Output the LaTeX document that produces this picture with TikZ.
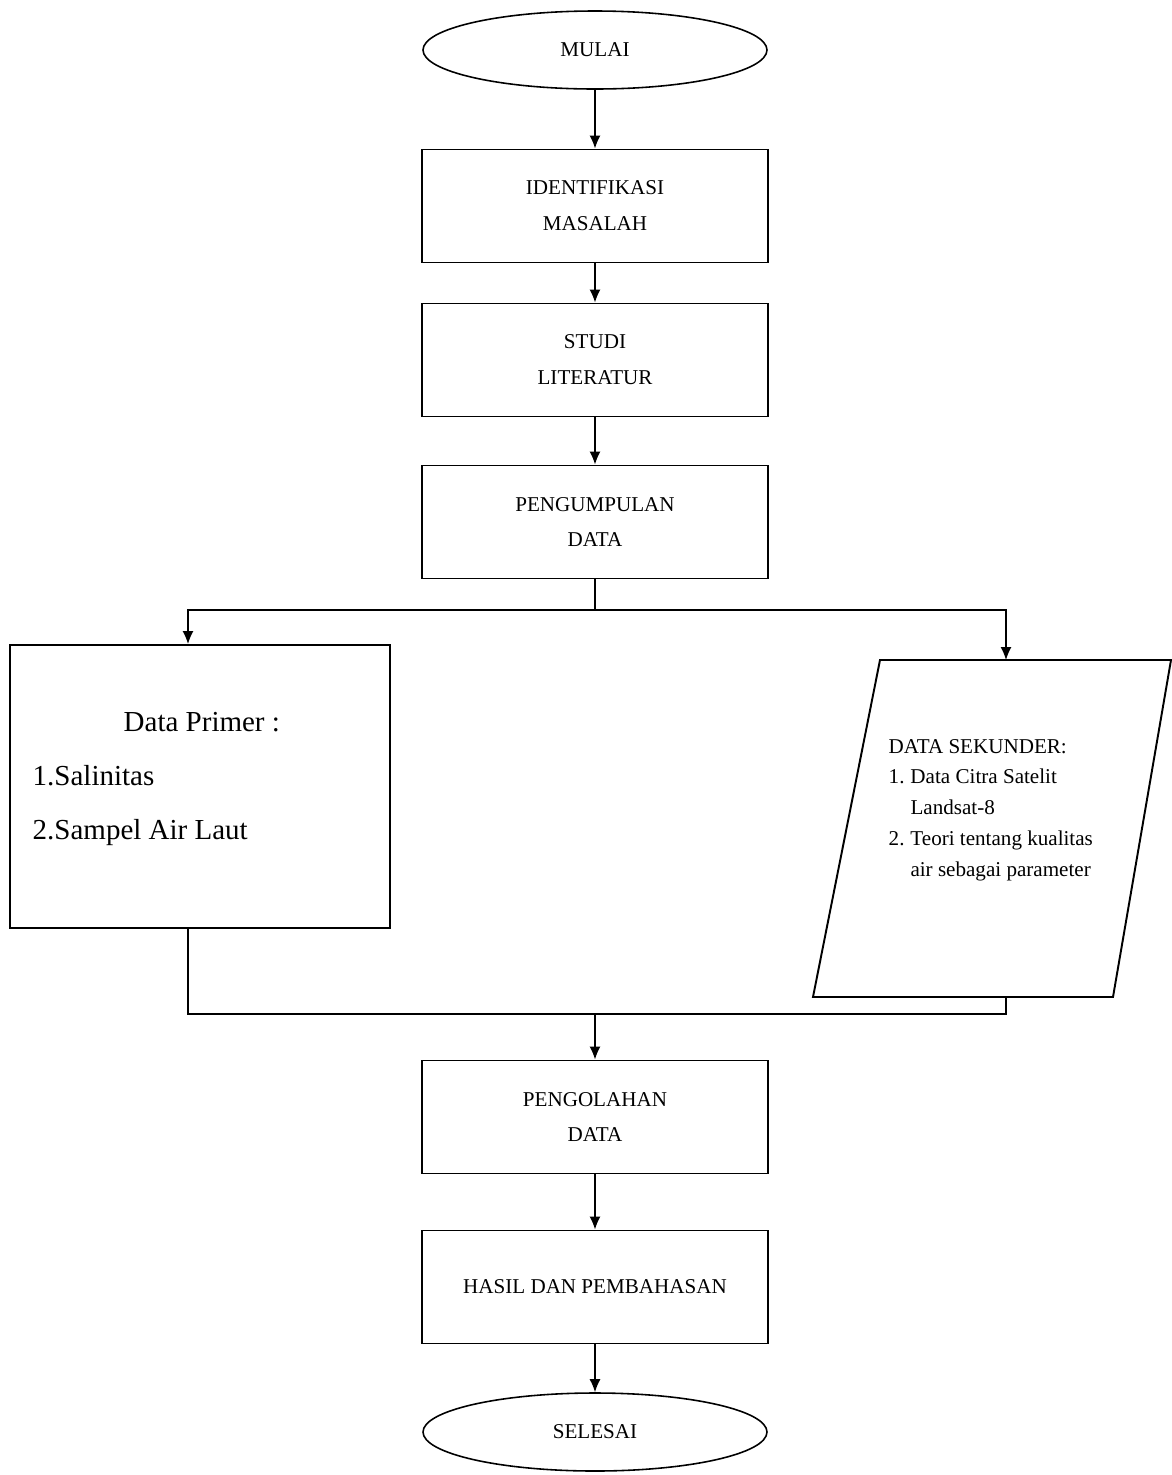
\documentclass[tikz,border=0pt]{standalone}
\usepackage{fontspec}
\setmainfont{Liberation Serif}
\usetikzlibrary{shapes.geometric,arrows.meta}

\begin{document}
\begin{tikzpicture}[x=0.2mm, y=-0.2mm, line width=0.8pt,
  proses/.style = {draw, line width=1.1pt, minimum width=69.2mm, minimum height=22.6mm, align=center, font=\fontsize{12}{20.4}\selectfont},
  ujung/.style = {draw, ellipse, line width=0.9pt, minimum width=68.8mm, minimum height=15.6mm, font=\fontsize{12}{14}\selectfont},
  panah/.style = {-{Latex[length=2.6mm, width=2.2mm]}}]
\useasboundingbox (0,0) rectangle (1172,1475);

\node[ujung] (mulai) at (595,50) {MULAI};
\node[proses] (iden) at (595,206) {IDENTIFIKASI\\MASALAH};
\node[proses] (studi) at (595,360) {STUDI\\LITERATUR};
\node[proses] (kumpul) at (595,522) {PENGUMPULAN\\DATA};
\node[proses] (olah) at (595,1117) {PENGOLAHAN\\DATA};
\node[proses] (hasil) at (595,1287) {HASIL DAN PEMBAHASAN};
\node[ujung] (selesai) at (595,1432) {SELESAI};

% data primer
\node[draw, line width=1.1pt, minimum width=76mm, minimum height=56.6mm] (prim) at (200,786.5) {};
\node[anchor=base west, inner sep=0pt, font=\fontsize{16.5}{31}\selectfont] (primtxt) at (32,731)
  {\begin{tabular}[t]{@{}l@{}}\hspace*{51.8pt}Data Primer :\\ 1.Salinitas\\ 2.Sampel Air Laut\end{tabular}};

% data sekunder
\draw[line width=1.1pt] (880,660) -- (1171,660) -- (1113,997) -- (813,997) -- cycle;
\coordinate (sektop) at (1006,660);
\coordinate (sekbot) at (1006,997);
\node[anchor=base west, inner sep=0pt, font=\fontsize{12}{17.6}\selectfont] (sektxt) at (888,753)
  {\begin{tabular}[t]{@{}l@{\hspace{3.4pt}}l@{}}
   \multicolumn{2}{@{}l@{}}{DATA SEKUNDER:}\\
   1. & Data Citra Satelit\\
      & Landsat-8\\
   2. & Teori tentang kualitas\\
      & air sebagai parameter
   \end{tabular}};

\coordinate (bagi) at (595,610);
\coordinate (kiri) at (188,610);
\coordinate (kanan) at (1006,610);
\coordinate (gabung) at (595,1014);

\draw[panah] (mulai) -- (iden);
\draw[panah] (iden) -- (studi);
\draw[panah] (studi) -- (kumpul);
\draw (kumpul.south) -- (bagi);
\draw[panah] (bagi) -- (kiri) -- (kiri |- prim.north);
\draw[panah] (bagi) -- (kanan) -- (sektop);
\draw (prim.south -| kiri) -- (kiri |- gabung) -- (gabung);
\draw (sekbot) -- (sekbot |- gabung) -- (gabung);
\draw[panah] (gabung) -- (olah);
\draw[panah] (olah) -- (hasil);
\draw[panah] (hasil) -- (selesai);
\end{tikzpicture}
\end{document}
